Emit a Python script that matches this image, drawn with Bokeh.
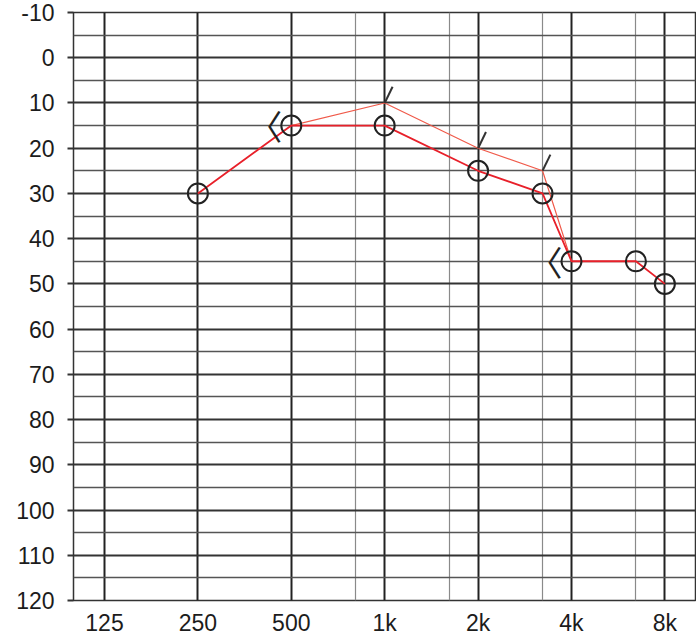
import math
from bokeh.plotting import figure
from bokeh.models import Range1d, FixedTicker, ColumnDataSource
from bokeh.core.properties import value
from bokeh.embed import file_html
from bokeh.resources import INLINE

# ---- data -------------------------------------------------------------
x_tick_freqs = [125, 250, 500, 1000, 2000, 4000, 8000]
x_tick_labels = ["125", "250", "500", "1k", "2k", "4k", "8k"]
x_mid_freqs = [750, 1500, 3000, 6000]
y_ticks = list(range(-10, 121, 10))
y_tick_labels = [str(v) for v in y_ticks]
y_minor = list(range(-5, 116, 10))

air_freqs = [250, 500, 1000, 2000, 3000, 4000, 6000, 8000]
air_db = [30, 15, 15, 25, 30, 45, 45, 50]

bone_freqs = [500, 1000, 2000, 3000, 4000]
bone_db = [15, 10, 20, 25, 45]
bone_marks = ["<", "/", "/", "/", "<"]

# chart column layout: octaves are equally spaced, half-octave columns
# sit at this fraction of the octave on the printed form
HALF = 0.69


def col(f):
    k = math.floor(math.log2(f / 125) + 1e-9)
    base = 125 * 2 ** k
    return float(k) if abs(f - base) < 1e-6 else k + HALF


p = figure(width=696, height=638, output_backend="svg", toolbar_location=None,
           x_range=Range1d(-0.332, 6.328), y_range=Range1d(120, -10),
           min_border_left=73, min_border_right=1, min_border_top=12,
           min_border_bottom=36)
p.background_fill_color = "white"
p.border_fill_color = "white"
p.outline_line_color = "#333333"
p.outline_line_width = 1.5

xt = FixedTicker(ticks=[col(f) for f in x_tick_freqs],
                 minor_ticks=[col(f) for f in x_mid_freqs])
yt = FixedTicker(ticks=y_ticks, minor_ticks=y_minor)
p.xaxis.ticker = xt
p.yaxis.ticker = yt
p.xgrid.ticker = xt
p.ygrid.ticker = yt
p.xaxis.major_label_overrides = {col(f): lab for f, lab in zip(x_tick_freqs, x_tick_labels)}
p.yaxis.major_label_overrides = {v: lab for v, lab in zip(y_ticks, y_tick_labels)}

p.xgrid.grid_line_color = "#222222"
p.xgrid.grid_line_width = 2
p.xgrid.minor_grid_line_color = "#8a8a8a"
p.xgrid.minor_grid_line_width = 1.2
p.ygrid.grid_line_color = "#333333"
p.ygrid.grid_line_width = 1.8
p.ygrid.minor_grid_line_color = "#555555"
p.ygrid.minor_grid_line_width = 1.4

for ax in (p.xaxis, p.yaxis):
    ax.axis_line_color = None
    ax.minor_tick_line_color = None
    ax.major_label_text_font = "Liberation Sans"
    ax.major_label_text_font_size = "23px"
    ax.major_label_text_color = "#1c1c1c"
p.xaxis.major_tick_line_color = None
p.xaxis.major_label_standoff = 3
p.yaxis.major_tick_in = 0
p.yaxis.major_tick_out = 6
p.yaxis.major_tick_line_color = "#333333"
p.yaxis.major_tick_line_width = 1.8
p.yaxis.major_label_standoff = 13

air = ColumnDataSource(dict(x=[col(f) for f in air_freqs], y=air_db))
bone = ColumnDataSource(dict(x=[col(f) for f in bone_freqs], y=bone_db, m=bone_marks))
bone_lt = ColumnDataSource(dict(
    x=[col(f) for f, m in zip(bone_freqs, bone_marks) if m == "<"],
    y=[d for d, m in zip(bone_db, bone_marks) if m == "<"]))
bone_sl = ColumnDataSource(dict(
    x=[col(f) for f, m in zip(bone_freqs, bone_marks) if m == "/"],
    y=[d for d, m in zip(bone_db, bone_marks) if m == "/"]))

p.line("x", "y", source=bone, line_color="#f05a4a", line_width=1.2)
p.line("x", "y", source=air, line_color="#e8202a", line_width=1.8)
p.scatter("x", "y", source=air, marker="circle", size=20, fill_alpha=0,
          line_color="#222222", line_width=2)
p.ray("x", "y", source=bone_sl, length=18, length_units="screen",
      angle=64, angle_units="deg", line_color="#333333", line_width=2)
p.text("x", "y", source=bone_lt, text=value("〈"), text_font=value("Noto Sans CJK JP"),
       text_font_size="34px", text_align="right", text_baseline="middle",
       x_offset=-9, y_offset=0, text_color="#222222")

open("out.html", "w").write(file_html(p, INLINE))
